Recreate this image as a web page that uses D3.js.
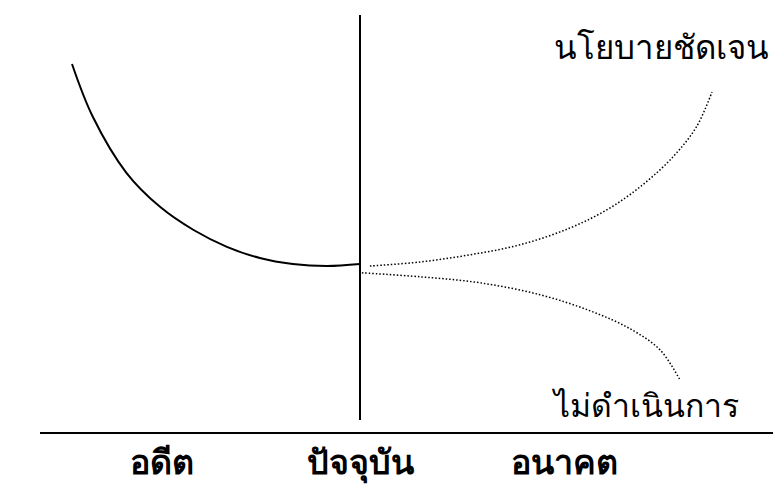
<!DOCTYPE html>
<html>
<head>
<meta charset="utf-8">
<script src="https://cdn.jsdelivr.net/npm/d3@7"></script>
<style>
  html, body { margin: 0; padding: 0; background: #fff; }
  svg { display: block; }
</style>
</head>
<body>
<svg class="chart"></svg>
<script>
// time: negative = past, 0 = present, positive = future
var periods = ["อดีต", "ปัจจุบัน", "อนาคต"];
var periodTimes = [-62, 0, 64];

var pastCurve = [
    [-90, 89], [-83.5, 75.8], [-73, 61.8], [-62.5, 53.3], [-52, 47.5],
    [-41.6, 43.3], [-31.3, 40.5], [-21, 39], [-10.3, 38.5], [0, 39]
];
var policyCurve = [
    [3.1, 38.5], [18.8, 39.5], [34.4, 41.3], [50, 43.8], [65.6, 48],
    [78.1, 53], [89.1, 59.3], [98.4, 66.3], [105.3, 73.5], [110, 82]
];
var noActionCurve = [
    [0.6, 36.8], [18.8, 35.8], [37.5, 34.3], [56.3, 31.3],
    [71.9, 27.3], [84.4, 22.8], [93.8, 17.5], [100, 10]
];
var policyLabel = "นโยบายชัดเจน";
var noActionLabel = "ไม่ดำเนินการ";

var width = 773, height = 484;

var svg = d3.select('svg.chart')
    .attr('width', width)
    .attr('height', height);

var x = d3.scaleLinear().domain([-100, 100]).range([40, 680]);
var y = d3.scaleLinear().domain([0, 100]).range([420, 20]);

var line = d3.line()
    .x(function(d) { return x(d[0]); })
    .y(function(d) { return y(d[1]); })
    .curve(d3.curveCatmullRom.alpha(0.5));

// present divider
svg.append("line")
    .attr("x1", x(0)).attr("x2", x(0))
    .attr("y1", 15).attr("y2", 420)
    .attr("stroke", "#000")
    .attr("stroke-width", 2);

// past trend
svg.append("path")
    .attr("d", line(pastCurve))
    .attr("fill", "none")
    .attr("stroke", "#000")
    .attr("stroke-width", 2);

// future scenarios
[policyCurve, noActionCurve].forEach(function(c) {
    svg.append("path")
        .attr("d", line(c))
        .attr("fill", "none")
        .attr("stroke", "#000")
        .attr("stroke-width", 1.5)
        .style("stroke-dasharray", "1.5, 2");
});

// scenario labels
svg.append("text")
    .attr("x", 769).attr("y", 59)
    .attr("text-anchor", "end")
    .style("font-family", "'Noto Sans', 'DejaVu Sans', sans-serif")
    .style("font-size", "33px")
    .text(policyLabel);

svg.append("text")
    .attr("x", 739).attr("y", 417)
    .attr("text-anchor", "end")
    .style("font-family", "'Noto Sans', 'DejaVu Sans', sans-serif")
    .style("font-size", "32px")
    .text(noActionLabel);

// time axis
svg.append("line")
    .attr("x1", 40).attr("x2", width)
    .attr("y1", 433).attr("y2", 433)
    .attr("stroke", "#000")
    .attr("stroke-width", 2);

svg.selectAll("text.period")
    .data(periods)
    .enter().append("text")
    .attr("class", "period")
    .attr("x", function(d, i) { return x(periodTimes[i]); })
    .attr("y", 474)
    .attr("text-anchor", "middle")
    .style("font-family", "'Noto Sans', 'DejaVu Sans', sans-serif")
    .style("font-size", "34px")
    .style("font-weight", "bold")
    .text(function(d) { return d; });
</script>
</body>
</html>
